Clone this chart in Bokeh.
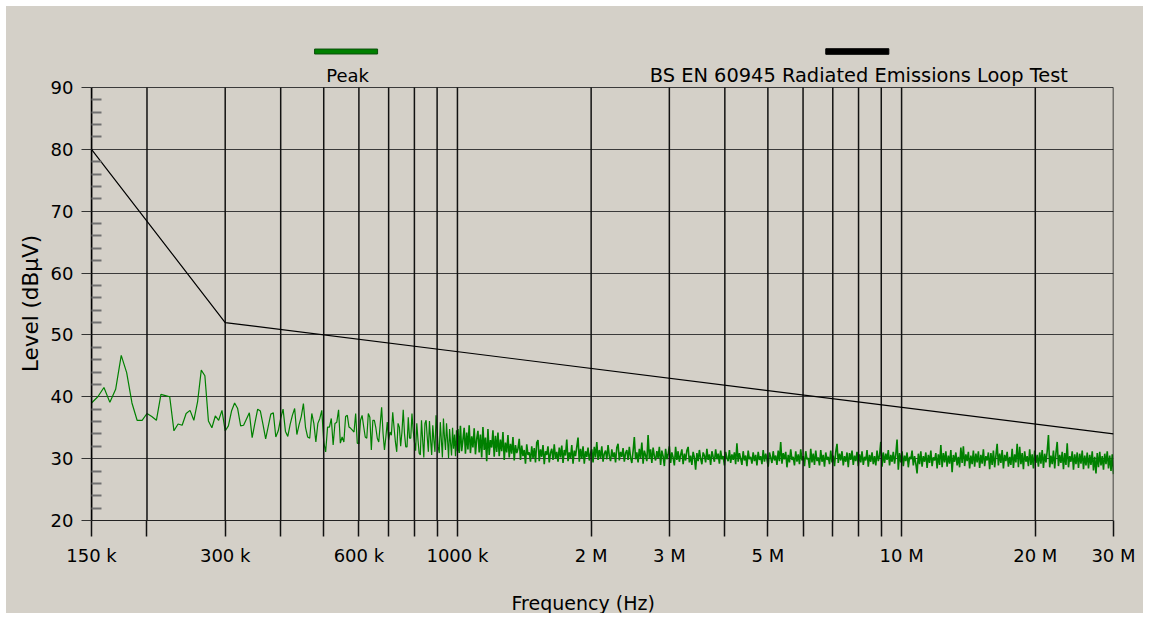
import math
import numpy as np
from bokeh.plotting import figure
from bokeh.layouts import column, row
from bokeh.models import FixedTicker, Range1d
from bokeh.core.properties import value
from bokeh.embed import file_html
from bokeh.resources import INLINE

# ---------------- data ----------------
# Peak trace, low band: one reading every 5 kHz from 150 kHz to 1000 kHz (dBµV)
lf_start_hz = 150e3
lf_step_hz = 5e3
lf_levels = [
    39.0, 40.0, 41.5, 39.1, 41.2, 46.7, 43.9, 39.0, 36.2, 36.2,   # 150-195k
    37.3, 36.8, 36.2, 40.4, 40.2, 40.0, 34.5, 35.6, 35.4, 37.3,   # 200-245k
    37.8, 36.2, 39.2, 44.3, 43.4, 36.1, 35.0, 36.9, 36.2, 37.8,   # 250-295k
    34.5, 35.3, 37.7, 39.0, 38.1, 35.3, 35.4, 36.4, 37.4, 33.4,   # 300-345k
    35.8, 38.0, 37.7, 35.5, 33.2, 35.2, 37.2, 37.4, 33.5, 34.5,   # 350-395k
    36.5, 38.0, 34.4, 33.6, 35.5, 37.0, 38.1, 33.9, 35.5, 36.8,   # 400-445k
    38.9, 35.0, 33.5, 33.3, 37.3, 35.7, 32.7, 35.7, 36.5, 37.8,   # 450-495k
    32.7, 31.1, 35.1, 35.1, 36.5, 32.2, 35.7, 35.9, 37.9, 32.5,   # 500-545k
    33.5, 32.7, 36.8, 37.0, 35.1, 34.9, 34.6, 34.3, 37.3, 32.5,   # 550-595k
    32.4, 36.2, 37.0, 35.2, 33.5, 33.3, 37.3, 36.7, 31.4, 36.2,   # 600-645k
    36.2, 35.0, 33.3, 32.7, 35.5, 38.3, 34.1, 31.4, 33.5, 35.9,   # 650-695k
    33.0, 34.3, 33.8, 37.5, 35.0, 32.7, 31.1, 35.7, 35.1, 32.0,   # 700-745k
    34.3, 37.9, 34.0, 31.9, 31.9, 36.7, 33.3, 33.3, 37.3, 34.5,   # 750-795k
    32.7, 31.3, 35.7, 33.0, 30.9, 30.6, 36.2, 33.0, 30.2, 35.7,   # 800-845k
    36.2, 33.5, 31.1, 36.1, 33.0, 30.6, 35.4, 33.0, 31.1, 37.0,   # 850-895k
    34.5, 31.9, 30.9, 35.9, 33.0, 30.2, 36.5, 33.5, 31.4, 35.7,   # 900-945k
    33.0, 30.1, 34.8, 32.5, 30.5, 35.0, 31.6, 33.9, 30.4, 34.6,   # 950-995k
    31.2,                                                         # 1000k
]

# Peak trace, 1 MHz - 30 MHz: readings taken evenly along the log axis (dBµV)
hf_start_hz = 1.0025e6
hf_stop_hz = 30e6
hf_levels = [
    34.8, 30.9, 35.3, 31.2, 33.0, 35.0, 30.8, 34.2, 31.5, 35.4, 30.9, 33.6, 31.8, 34.9, 30.7, 33.2,
    34.5, 31.0, 33.9, 30.2, 35.1, 31.4, 33.4, 29.6, 34.8, 30.6, 33.0, 31.8, 34.6, 30.3, 33.7, 31.1,
    34.2, 30.4, 33.1, 31.2, 34.3, 29.8, 32.6, 31.0, 33.8, 30.2, 32.4, 30.8, 33.5, 29.7, 32.2, 30.9,
    31.6, 33.2, 29.8, 32.1, 30.4, 31.4, 29.2, 32.3, 30.6, 31.0, 29.5, 32.0, 30.1, 31.7, 29.4, 32.6,
    33.0, 29.6, 31.5, 30.3, 32.2, 29.1, 31.2, 30.6, 32.0, 29.4, 30.9, 31.6, 29.8, 32.3, 30.0, 31.1,
    29.5, 31.8, 30.2, 32.1, 29.3, 31.4, 30.5, 33.1, 29.6, 31.0, 30.1, 32.2, 29.2, 31.3, 30.4, 31.9,
    33.4, 29.5, 31.6, 30.0, 32.0, 29.2, 31.2, 30.3, 31.8, 29.7, 30.9, 31.5, 29.4, 31.9, 30.2, 32.7,
    29.8, 31.4, 30.1, 32.0, 29.5, 30.8, 31.3, 29.9, 32.2, 30.4, 29.6, 31.5, 30.2, 31.0, 29.4, 31.8,
    32.4, 29.7, 31.1, 30.3, 31.7, 29.5, 30.9, 31.4, 29.8, 31.9, 30.2, 29.3, 31.2, 33.5, 29.9, 31.0,
    29.4, 31.6, 30.1, 32.6, 29.2, 31.3, 30.5, 29.6, 33.8, 30.0, 31.5, 29.3, 31.8, 30.4, 29.7, 31.2,
    30.1, 31.9, 29.0, 31.3, 30.4, 28.8, 31.6, 29.9, 30.7, 32.0, 29.3, 31.0, 30.2, 28.9, 31.9, 29.8,
    31.2, 29.5, 30.6, 31.5, 29.1, 30.8, 29.7, 31.3, 31.9, 29.4, 30.5, 29.0, 31.1, 30.2, 28.2, 30.9,
    29.6, 31.4, 30.0, 29.1, 31.0, 30.5, 29.4, 31.6, 29.8, 30.7, 29.0, 31.2, 30.3, 29.5, 31.5, 29.9,
    30.8, 29.2, 31.3, 29.9, 30.4, 28.9, 31.1, 30.1, 29.6, 31.4, 29.3, 30.7, 29.8, 31.0, 29.1, 32.5,
    29.5, 30.9, 30.0, 29.0, 31.2, 29.7, 30.5, 28.8, 31.3, 29.9, 30.3, 29.2, 31.0, 29.6, 30.6, 28.9,
    31.1, 29.8, 30.4, 29.1, 31.4, 29.5, 30.8, 29.9, 28.7, 31.0, 30.2, 29.3, 31.2, 29.7, 30.5, 29.0,
    31.3, 29.6, 32.7, 29.2, 30.9, 29.9, 31.1, 28.6, 30.6, 29.4, 31.5, 29.8, 30.3, 28.9, 31.2, 29.5,
    30.7, 29.1, 31.5, 29.7, 30.4, 28.8, 31.2, 29.9, 30.1, 28.5, 31.6, 29.4, 30.8, 29.0, 31.3, 29.6,
    30.2, 28.9, 31.4, 29.5, 30.6, 28.7, 31.0, 29.8, 30.3, 29.1, 31.3, 29.4, 30.5, 28.8, 31.1, 32.4,
    29.3, 30.8, 29.7, 31.2, 28.9, 30.4, 29.5, 31.0, 28.6, 30.9, 29.8, 31.3, 29.0, 30.5, 29.6, 31.1,
    28.8, 30.7, 29.4, 31.2, 29.0, 30.3, 29.7, 31.4, 28.7, 30.6, 29.5, 31.0, 29.1, 30.4, 28.9, 31.3,
    29.6, 30.5, 32.7, 28.7, 31.0, 29.3, 30.8, 29.8, 31.4, 28.9, 30.6, 29.5, 31.1, 29.2, 30.7, 33.1,
    28.2, 30.9, 29.4, 31.2, 28.8, 30.5, 29.6, 31.0, 28.6, 30.3, 29.9, 31.3, 28.9, 30.4, 29.2, 27.6,
    30.8, 29.1, 31.2, 28.7, 30.4, 29.5, 31.0, 28.5, 30.6, 29.3, 31.3, 28.8, 30.2, 29.7, 30.9, 28.4,
    30.7, 29.0, 32.2, 28.6, 30.9, 29.4, 31.2, 28.7, 30.5, 29.2, 31.4, 27.8, 30.6, 29.5, 31.0, 28.9,
    30.3, 28.6, 31.8, 29.3, 32.0, 28.8, 30.7, 29.6, 31.1, 28.4, 30.5, 29.1, 31.3, 28.7, 30.8, 29.4,
    31.2, 28.5, 30.6, 29.2, 31.5, 28.8, 30.4, 29.7, 31.0, 28.3, 30.9, 29.0, 31.3, 28.6, 30.5, 32.4,
    28.9, 30.8, 29.3, 31.4, 28.4, 30.6, 29.6, 31.1, 28.7, 30.3, 29.0, 31.6, 28.5, 30.7, 29.4, 32.4,
    28.6, 31.9, 29.1, 30.9, 28.3, 31.2, 29.5, 30.4, 28.8, 31.5, 29.0, 30.7, 28.4, 31.3, 29.3, 30.6,
    28.7, 31.0, 29.2, 31.4, 28.5, 30.8, 29.4, 31.2, 33.8, 28.6, 30.5, 29.1, 31.3, 28.4, 30.9, 32.7,
    28.8, 30.6, 29.3, 31.1, 28.3, 30.9, 29.0, 32.5, 28.6, 30.4, 29.5, 31.2, 28.2, 30.7, 29.1, 31.0,
    28.5, 30.8, 29.2, 31.3, 28.3, 30.5, 28.9, 31.0, 28.4, 30.6, 29.0, 31.2, 28.1, 30.3, 27.6, 30.9,
    28.6, 31.1, 28.9, 30.4, 28.2, 30.8, 29.1, 31.2, 28.4, 30.5, 28.0, 30.7, 27.5,
]

# Limit line: BS EN 60945 radiated emissions (loop)
limit_freq_hz = [150e3, 300e3, 30e6]
limit_level = [80, 52, 34]

x_grid_hz = [150000, 200000, 300000, 400000, 500000, 600000, 700000, 800000, 900000,
             1000000, 2000000, 3000000, 4000000, 5000000, 6000000, 7000000, 8000000,
             9000000, 10000000, 20000000, 30000000]
x_tick_labels = {150000: "150 k", 300000: "300 k", 600000: "600 k", 1000000: "1000 k",
                 2000000: "2 M", 3000000: "3 M", 5000000: "5 M", 10000000: "10 M",
                 20000000: "20 M", 30000000: "30 M"}
y_major = [20, 30, 40, 50, 60, 70, 80, 90]
y_minor = [v for v in range(20, 91, 2) if v % 10 != 0]

series_names = ["Peak", "BS EN 60945 Radiated Emissions Loop Test"]
series_colors = ["#008000", "#000000"]
x_title = "Frequency (Hz)"
y_title = "Level (dBµV)"

# ---------------- styling ----------------
BG = "#d4d0c8"
FONT = "DejaVu Sans"
FS = "18px"
GRID_V = "#111111"
MAIN_H = 566


def strip_figure(**kw):
    f = figure(output_backend="svg", toolbar_location=None,
               x_axis_location=None, y_axis_location=None,
               background_fill_alpha=0, border_fill_color=BG, **kw)
    f.outline_line_color = None
    f.grid.visible = False
    return f


lf_freq = lf_start_hz + lf_step_hz * np.arange(len(lf_levels))
hf_freq = np.geomspace(hf_start_hz, hf_stop_hz, len(hf_levels))

# --- main plot (frame reaches up to hold the legend; grid/axis bounded to 20..90) ---
main = figure(width=1097, height=MAIN_H, x_axis_type="log",
              x_range=Range1d(150e3, 30e6), y_range=Range1d(20, 97.6),
              output_backend="svg", toolbar_location=None,
              min_border_left=45, min_border_right=30, min_border_top=34, min_border_bottom=52,
              background_fill_alpha=0, border_fill_color=BG)
main.outline_line_color = None

xt = FixedTicker(ticks=x_grid_hz)
xa = main.xaxis[0]
xa.ticker = xt
xa.major_label_overrides = {t: x_tick_labels.get(t, "") for t in x_grid_hz}
xa.major_tick_out = 16
xa.major_tick_in = 0
xa.minor_tick_line_color = None
xa.major_tick_line_color = GRID_V
xa.major_tick_line_width = 1.5
xa.axis_line_color = "#222222"
xa.major_label_standoff = 8
xa.major_label_text_font = FONT
xa.major_label_text_font_size = FS
xa.major_label_text_color = "#000000"
main.xgrid.grid_line_color = None

yt = FixedTicker(ticks=y_major, minor_ticks=y_minor)
ya = main.yaxis[0]
ya.ticker = yt
ya.bounds = (20, 90)
main.ygrid[0].ticker = yt
ya.major_tick_out = 10
ya.major_tick_in = 0
ya.minor_tick_in = 10
ya.minor_tick_out = 0
ya.minor_tick_line_color = "#707070"
ya.minor_tick_line_width = 2
ya.major_tick_line_color = "#333333"
ya.axis_line_color = "#000000"
ya.axis_line_width = 1.5
ya.major_label_standoff = 8
ya.major_label_text_font = FONT
ya.major_label_text_font_size = FS
ya.major_label_text_color = "#000000"
main.ygrid.grid_line_color = "#3a3a3a"
main.ygrid.grid_line_width = 1.2

# peak trace (dense upper band drawn slightly heavier, as in the original)
main.line(lf_freq, lf_levels, line_color=series_colors[0], line_width=1.2)
main.line(np.concatenate([lf_freq[-1:], hf_freq]), [lf_levels[-1]] + hf_levels,
          line_color=series_colors[0], line_width=1.6)

# vertical grid lines (over the trace, bounded to the 20..90 dB area)
main.segment(x0=x_grid_hz, y0=[y_major[0]] * len(x_grid_hz),
             x1=x_grid_hz, y1=[y_major[-1]] * len(x_grid_hz),
             line_color=GRID_V, line_width=1.5)

main.line(limit_freq_hz, limit_level, line_color=series_colors[1], line_width=1.2)

# legend: swatch above its label
main.hbar(y=[95.82, 95.82], height=[0.8, 0.9], left=[476.8e3, 6.75e6], right=[661e3, 9.36e6],
          fill_color=series_colors, line_color=["#0b4f0b", "#000000"], line_width=1)
main.text(x=[565.8e3, 8.01e6], y=[91.94, 91.94], text=series_names,
          text_align="center", text_baseline="middle",
          text_font=value(FONT), text_font_size=["18px", "19.4px"], text_color="#000000")

# --- y title strip ---
ylab = strip_figure(width=40, height=MAIN_H, x_range=Range1d(0, 1), y_range=Range1d(0, 1),
                    min_border=0)
ylab.text(x=[0.6], y=[0.452], text=[y_title], angle=math.pi / 2,
          text_align="center", text_baseline="middle",
          text_font=value(FONT), text_font_size=value("21.5px"), text_color="#000000")

# --- x title strip ---
xlab = strip_figure(width=1137, height=41, x_axis_type="log", x_range=main.x_range,
                    y_range=Range1d(0, 1),
                    min_border_left=85, min_border_right=30, min_border_top=0, min_border_bottom=0)
xlab.text(x=[1.919e6], y=[0.26], text=[x_title], text_align="center", text_baseline="middle",
          text_font=value(FONT), text_font_size=value("19px"), text_color="#000000")

layout = column(row(ylab, main), xlab, styles={"background-color": BG})
layout.margin = (6, 6, 6, 6)

open("out.html", "w").write(file_html(layout, INLINE))
